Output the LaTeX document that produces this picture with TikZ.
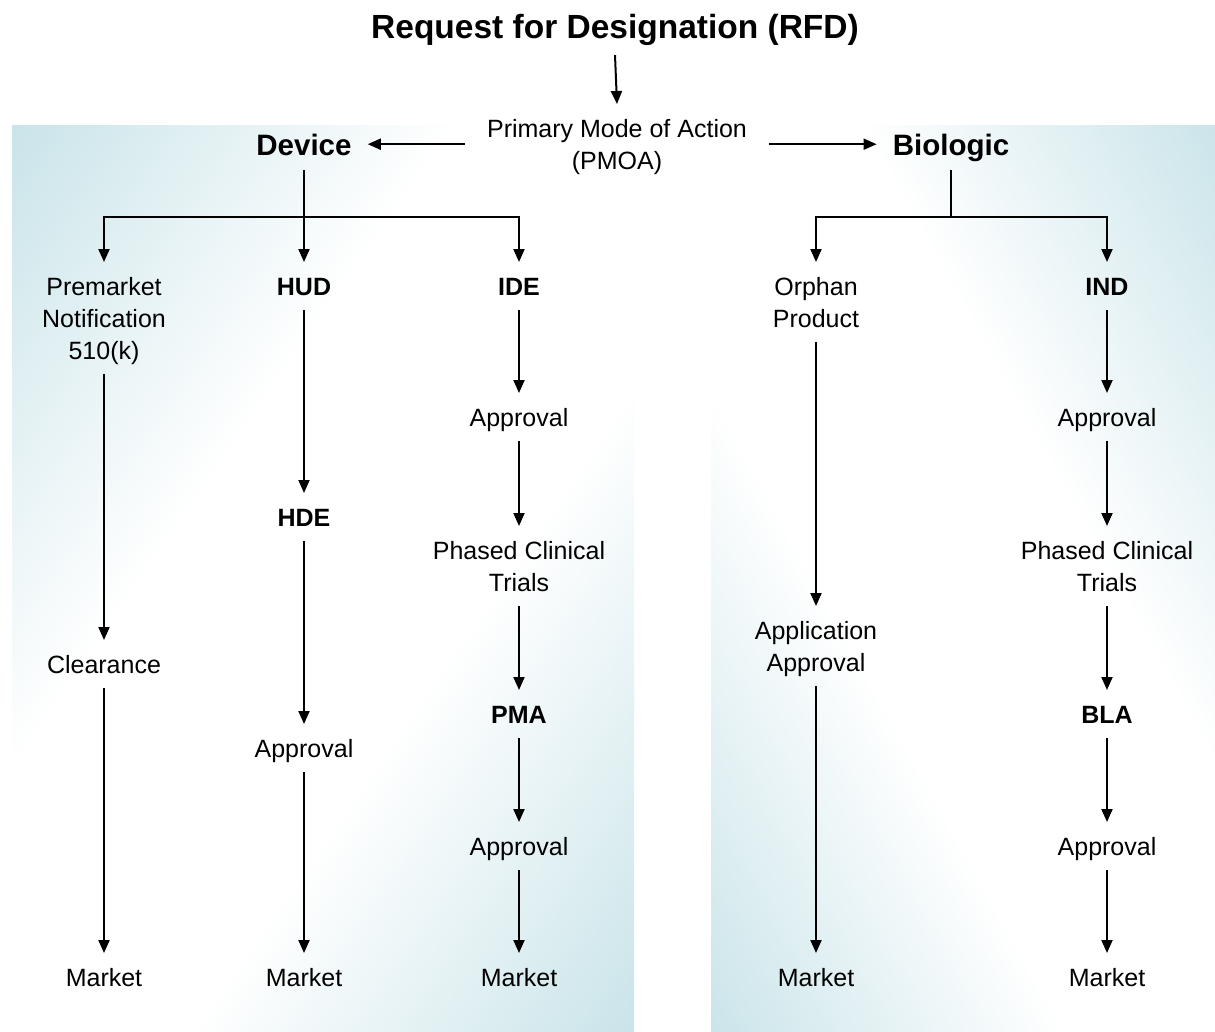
\documentclass[tikz,border=0pt]{standalone}
\usepackage{fontspec}
\setmainfont{Liberation Sans}
\usetikzlibrary{arrows.meta}
\definecolor{panelblue}{RGB}{186,220,227}
\pgfdeclarehorizontalshading{panelshade}{100bp}{color(0bp)=(panelblue); color(8bp)=(panelblue); color(40bp)=(white); color(60bp)=(white); color(92bp)=(panelblue); color(100bp)=(panelblue)}
\begin{document}
\begin{tikzpicture}[x=1pt,y=-1pt,
  lbl/.style={font=\fontsize{25}{32}\selectfont, align=center, text height=18pt, text depth=0pt, inner xsep=4pt, inner ysep=15pt, anchor=north},
  lbltwo/.style={lbl, text height=50pt},
  lblthree/.style={lbl, text height=82pt},
  bld/.style={lbl, font=\fontsize{25}{32}\selectfont\bfseries},
  head/.style={font=\fontsize{29.5}{36}\selectfont\bfseries, text height=21pt, text depth=0pt, inner xsep=16pt, inner ysep=14.5pt},
  arr/.style={line width=2pt, -{Triangle[length=13pt,width=11pt]}},
  ln/.style={line width=2pt},
]
\useasboundingbox (0,0) rectangle (1215,1031);
\fill[white] (0,0) rectangle (1215,1031);
% panels
\shade[shading=panelshade, shading angle=-34.5] (12,125) rectangle (634,1031);
\shade[shading=panelshade, shading angle=29] (711,125) rectangle (1215,1031);

% top
\node[font=\fontsize{33.5}{40}\selectfont\bfseries, text height=24pt, text depth=0pt, inner ysep=17pt] (rfd) at (615,26) {Request for Designation (RFD)};
\node[lbltwo, inner xsep=22pt] (pmoa) at (617,104) {Primary Mode of Action\\(PMOA)};
\node[head] (dev) at (304,145) {Device};
\node[head] (bio) at (951,145) {Biologic};

% device column nodes
\node[lblthree] (pre) at (104,262) {Premarket\\Notification\\510(k)};
\node[lbl] (clr) at (104,640) {Clearance};
\node[lbl] (mk1) at (104,953) {Market};
\node[bld] (hud) at (304,262) {HUD};
\node[bld] (hde) at (304,493) {HDE};
\node[lbl] (ap1) at (304,724) {Approval};
\node[lbl] (mk2) at (304,953) {Market};
\node[bld] (ide) at (519,262) {IDE};
\node[lbl] (ap2) at (519,393) {Approval};
\node[lbltwo] (pct1) at (519,526) {Phased Clinical\\Trials};
\node[bld] (pma) at (519,690) {PMA};
\node[lbl] (ap3) at (519,822) {Approval};
\node[lbl] (mk3) at (519,953) {Market};

% biologic column nodes
\node[lbltwo] (orp) at (816,262) {Orphan\\Product};
\node[lbltwo] (app) at (816,606) {Application\\Approval};
\node[lbl] (mk4) at (816,953) {Market};
\node[bld] (ind) at (1107,262) {IND};
\node[lbl] (ap4) at (1107,393) {Approval};
\node[lbltwo] (pct2) at (1107,526) {Phased Clinical\\Trials};
\node[bld] (bla) at (1107,690) {BLA};
\node[lbl] (ap5) at (1107,822) {Approval};
\node[lbl] (mk5) at (1107,953) {Market};

% connectors
\draw[arr] (rfd.south) -- (pmoa.north);
\draw[arr] (pmoa.west) -- (pmoa.west -| dev.east);
\draw[arr] (pmoa.east) -- (pmoa.east -| bio.west);

\coordinate (dj) at (304,217);
\coordinate (bj) at (951,217);
\draw[ln] (dev.south) -- (dj);
\draw[arr] (dj) -| (pre.north);
\draw[arr] (dj) -- (hud.north);
\draw[arr] (dj) -| (ide.north);
\draw[ln] (bio.south) -- (bj);
\draw[arr] (bj) -| (orp.north);
\draw[arr] (bj) -| (ind.north);

\draw[arr] (pre.south) -- (clr.north);
\draw[arr] (clr.south) -- (mk1.north);
\draw[arr] (hud.south) -- (hde.north);
\draw[arr] (hde.south) -- (ap1.north);
\draw[arr] (ap1.south) -- (mk2.north);
\draw[arr] (ide.south) -- (ap2.north);
\draw[arr] (ap2.south) -- (pct1.north);
\draw[arr] (pct1.south) -- (pma.north);
\draw[arr] (pma.south) -- (ap3.north);
\draw[arr] (ap3.south) -- (mk3.north);

\draw[arr] (orp.south) -- (app.north);
\draw[arr] (app.south) -- (mk4.north);
\draw[arr] (ind.south) -- (ap4.north);
\draw[arr] (ap4.south) -- (pct2.north);
\draw[arr] (pct2.south) -- (bla.north);
\draw[arr] (bla.south) -- (ap5.north);
\draw[arr] (ap5.south) -- (mk5.north);
\end{tikzpicture}
\end{document}
